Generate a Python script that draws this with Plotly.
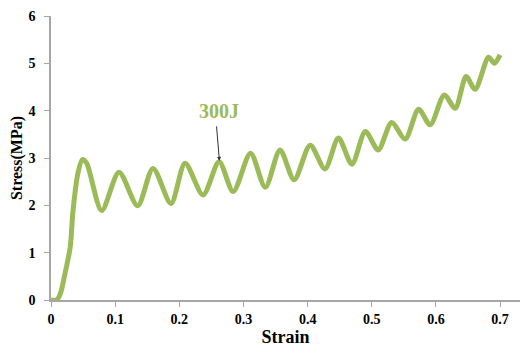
import plotly.graph_objects as go

strain = [0.0, 0.009, 0.015, 0.022, 0.030, 0.034, 0.042, 0.049, 0.0556, 0.079, 0.106, 0.135,
          0.159, 0.187, 0.209, 0.237, 0.262, 0.284, 0.311, 0.334, 0.357, 0.379, 0.404,
          0.427, 0.448, 0.469, 0.490, 0.510, 0.531, 0.552, 0.573, 0.591, 0.613, 0.630,
          0.647, 0.661, 0.682, 0.691, 0.700]
stress = [0.0, 0.0, 0.15, 0.57, 1.12, 1.84, 2.68, 2.97, 2.89, 1.89, 2.70, 1.99,
          2.78, 2.04, 2.89, 2.22, 2.92, 2.29, 3.10, 2.38, 3.17, 2.54, 3.27,
          2.77, 3.42, 2.87, 3.56, 3.17, 3.75, 3.40, 4.03, 3.70, 4.33, 4.05,
          4.72, 4.45, 5.13, 5.00, 5.18]

x_ticks = [0, 0.1, 0.2, 0.3, 0.4, 0.5, 0.6, 0.7]
y_ticks = [0, 1, 2, 3, 4, 5, 6]

green = "#9BBB59"
font = "Liberation Serif, Times New Roman, serif"

fig = go.Figure()
fig.add_trace(go.Scatter(x=strain, y=stress, mode="lines",
                         line=dict(color=green, width=5, shape="spline", smoothing=0.8),
                         showlegend=False, hoverinfo="skip"))

fig.update_layout(
    width=520, height=347,
    margin=dict(l=51, r=0, t=16, b=47),
    paper_bgcolor="white", plot_bgcolor="white",
    font=dict(family=font, color="black"),
    xaxis=dict(range=[0, 0.731], tickvals=x_ticks, ticktext=["<b>%g</b>" % v for v in x_ticks],
               showgrid=False, zeroline=False, showline=True, linecolor="#A6A6A6", linewidth=1.5,
               ticks="outside", ticklen=5, tickcolor="#A6A6A6",
               tickfont=dict(size=14, family=font),
               title=dict(text="<b>Strain</b>", font=dict(size=18, family=font), standoff=5)),
    yaxis=dict(range=[0, 6], tickvals=y_ticks, ticktext=["<b>%g</b>" % v for v in y_ticks],
               showgrid=False, zeroline=False, showline=True, linecolor="#A6A6A6", linewidth=1.5,
               ticks="outside", ticklen=5, tickcolor="#A6A6A6", ticklabelstandoff=6,
               tickfont=dict(size=14, family=font),
               title=dict(text="<b>Stress(MPa)</b>", font=dict(size=16, family=font), standoff=2)),
)

fig.add_annotation(x=0.262, y=3.99, xref="x", yref="y", text="<b>300J</b>", showarrow=False,
                   font=dict(size=20, family=font, color=green))
fig.add_annotation(x=0.2625, y=2.94, xref="x", yref="y", text="", showarrow=True,
                   ax=-3, ay=-36, arrowhead=2, arrowsize=0.8, arrowwidth=1, arrowcolor="#333333")

fig.write_html("out.html")
